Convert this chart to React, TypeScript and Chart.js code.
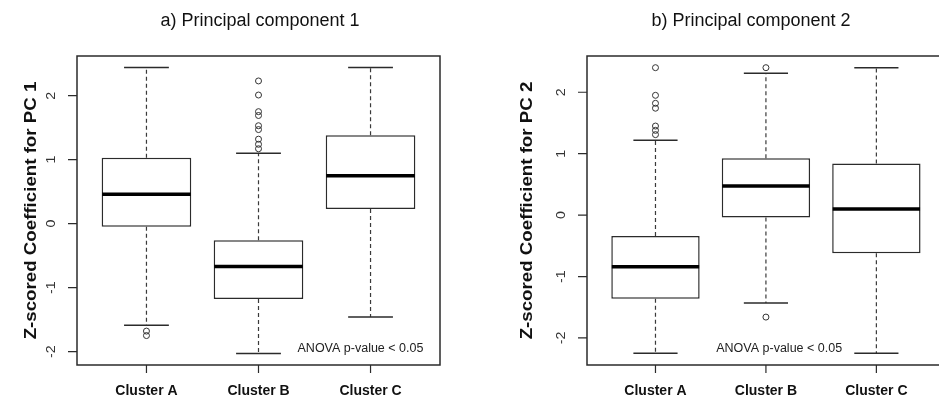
import React, { useEffect, useRef } from 'react';
import { Chart, registerables } from 'chart.js';

Chart.register(...registerables);

// ---------- data ----------
const categories = ['Cluster A', 'Cluster B', 'Cluster C'];
const yTicks = [-2, -1, 0, 1, 2];
const noteText = 'ANOVA p-value < 0.05';

const pc1Title = 'a) Principal component 1';
const pc1AxisTitle = 'Z-scored Coefficient for PC 1';
const pc1Low = [-1.59, -2.03, -1.46];
const pc1Q1 = [-0.05, -1.18, 0.23];
const pc1Median = [0.46, -0.67, 0.75];
const pc1Q3 = [1.03, -0.26, 1.38];
const pc1High = [2.44, 1.1, 2.44];
const pc1Outliers = [
  [-1.68, -1.75],
  [2.23, 2.01, 1.75, 1.69, 1.53, 1.47, 1.32, 1.24, 1.17],
  [],
];
const pc1YRange = [-2.21, 2.62];

const pc2Title = 'b) Principal component 2';
const pc2AxisTitle = 'Z-scored Coefficient for PC 2';
const pc2Low = [-2.25, -1.43, -2.25];
const pc2Q1 = [-1.36, -0.04, -0.62];
const pc2Median = [-0.84, 0.475, 0.1];
const pc2Q3 = [-0.34, 0.925, 0.84];
const pc2High = [1.22, 2.31, 2.4];
const pc2Outliers = [
  [2.4, 1.95, 1.82, 1.74, 1.45, 1.38, 1.31],
  [2.4, -1.66],
  [],
];
const pc2YRange = [-2.44, 2.59];

// ---------- layout / style ----------
const FONT = '"Liberation Sans", Arial, Helvetica, sans-serif';
const INK = '#2b2b2b';

type Panel = {
  key: string;
  title: string;
  axisTitle: string;
  low: number[];
  q1: number[];
  median: number[];
  q3: number[];
  high: number[];
  outliers: number[][];
  yRange: number[];
  xRange: number[];
  padding: { left: number; right: number; top: number; bottom: number };
  titleX: number;
  axisTitleX: number;
  note: { x: number; y: number };
  rightBorder: boolean;
};

const panels: Panel[] = [
  {
    key: 'pc1',
    title: pc1Title,
    axisTitle: pc1AxisTitle,
    low: pc1Low,
    q1: pc1Q1,
    median: pc1Median,
    q3: pc1Q3,
    high: pc1High,
    outliers: pc1Outliers,
    yRange: pc1YRange,
    xRange: [0.38, 3.62],
    padding: { left: 77, right: 32, top: 56, bottom: 43 },
    titleX: 260,
    axisTitleX: 31,
    note: { x: 2.91, y: -1.96 },
    rightBorder: true,
  },
  {
    key: 'pc2',
    title: pc2Title,
    axisTitle: pc2AxisTitle,
    low: pc2Low,
    q1: pc2Q1,
    median: pc2Median,
    q3: pc2Q3,
    high: pc2High,
    outliers: pc2Outliers,
    yRange: pc2YRange,
    xRange: [0.38, 3.567],
    padding: { left: 115, right: 0, top: 56, bottom: 43 },
    titleX: 279,
    axisTitleX: 55,
    note: { x: 2.12, y: -2.18 },
    rightBorder: false,
  },
];

function makePlugin(p: Panel) {
  return {
    id: 'boxplot-' + p.key,
    afterDatasetsDraw(chart: any) {
      const ctx = chart.ctx as CanvasRenderingContext2D;
      const ys = chart.scales.y;
      const meta = chart.getDatasetMeta(0);
      ctx.save();
      categories.forEach((_, i) => {
        const bar = meta.data[i] as any;
        const x = bar.x;
        const w = bar.width;
        const cap = w / 4;
        const yLow = ys.getPixelForValue(p.low[i]);
        const yQ1 = ys.getPixelForValue(p.q1[i]);
        const yMed = ys.getPixelForValue(p.median[i]);
        const yQ3 = ys.getPixelForValue(p.q3[i]);
        const yHigh = ys.getPixelForValue(p.high[i]);
        // dashed whiskers
        ctx.strokeStyle = '#3a3a3a';
        ctx.lineWidth = 1.2;
        ctx.setLineDash([4, 3]);
        ctx.beginPath();
        ctx.moveTo(x, yQ3);
        ctx.lineTo(x, yHigh);
        ctx.moveTo(x, yQ1);
        ctx.lineTo(x, yLow);
        ctx.stroke();
        // caps
        ctx.setLineDash([]);
        ctx.strokeStyle = INK;
        ctx.lineWidth = 1.5;
        ctx.beginPath();
        ctx.moveTo(x - cap, yHigh);
        ctx.lineTo(x + cap, yHigh);
        ctx.moveTo(x - cap, yLow);
        ctx.lineTo(x + cap, yLow);
        ctx.stroke();
        // median
        ctx.strokeStyle = '#000';
        ctx.lineWidth = 3.5;
        ctx.beginPath();
        ctx.moveTo(x - w / 2 + 0.5, yMed);
        ctx.lineTo(x + w / 2 - 0.5, yMed);
        ctx.stroke();
      });
      ctx.restore();
    },
    afterDraw(chart: any) {
      const ctx = chart.ctx as CanvasRenderingContext2D;
      const xs = chart.scales.x;
      const ys = chart.scales.y;
      const { left, right, top, bottom } = chart.chartArea;
      ctx.save();
      // frame
      ctx.strokeStyle = INK;
      ctx.lineWidth = 1.5;
      ctx.beginPath();
      ctx.moveTo(right, top);
      ctx.lineTo(left, top);
      ctx.lineTo(left, bottom);
      ctx.lineTo(right, bottom);
      if (p.rightBorder) ctx.closePath();
      ctx.stroke();
      // ticks
      ctx.lineWidth = 1.2;
      ctx.beginPath();
      yTicks.forEach((t) => {
        const y = ys.getPixelForValue(t);
        ctx.moveTo(left, y);
        ctx.lineTo(left - 9, y);
      });
      categories.forEach((_, i) => {
        const x = xs.getPixelForValue(i + 1);
        ctx.moveTo(x, bottom);
        ctx.lineTo(x, bottom + 8);
      });
      ctx.stroke();
      // y tick labels (rotated)
      ctx.fillStyle = '#333';
      ctx.textAlign = 'center';
      ctx.textBaseline = 'middle';
      ctx.font = `13px ${FONT}`;
      yTicks.forEach((t) => {
        const y = ys.getPixelForValue(t);
        ctx.save();
        ctx.translate(left - 26, y);
        ctx.rotate(-Math.PI / 2);
        ctx.scale(1.1, 1);
        ctx.fillText(String(t), 0, 0);
        ctx.restore();
      });
      // x category labels
      ctx.fillStyle = '#111';
      ctx.font = `bold 14px ${FONT}`;
      categories.forEach((c, i) => {
        const x = xs.getPixelForValue(i + 1);
        ctx.fillText(c, x, bottom + 26);
      });
      // y axis title
      ctx.save();
      ctx.translate(p.axisTitleX, (top + bottom) / 2);
      ctx.rotate(-Math.PI / 2);
      ctx.scale(1.1, 1);
      ctx.font = `bold 17px ${FONT}`;
      ctx.fillText(p.axisTitle, 0, 0);
      ctx.restore();
      // main title
      ctx.font = `18px ${FONT}`;
      ctx.fillStyle = '#111';
      ctx.fillText(p.title, p.titleX, 21);
      // note
      ctx.font = `12.5px ${FONT}`;
      ctx.fillStyle = '#222';
      ctx.fillText(noteText, xs.getPixelForValue(p.note.x), ys.getPixelForValue(p.note.y));
      ctx.restore();
    },
  };
}

function BoxPanel({ p }: { p: Panel }) {
  const ref = useRef<HTMLCanvasElement | null>(null);
  useEffect(() => {
    if (!ref.current) return;
    const outlierPoints = p.outliers.flatMap((arr, i) => arr.map((v) => ({ x: i + 1, y: v })));
    const chart = new Chart(ref.current, {
      type: 'bar',
      data: {
        datasets: [
          {
            type: 'bar',
            data: categories.map((_, i) => ({ x: i + 1, y: [p.q1[i], p.q3[i]] })) as any,
            backgroundColor: '#ffffff',
            borderColor: INK,
            borderWidth: 1.5,
            borderSkipped: false,
            barPercentage: 0.8,
            categoryPercentage: 1,
            grouped: false,
          } as any,
          {
            type: 'scatter',
            data: outlierPoints as any,
            pointRadius: 3,
            pointBorderWidth: 1,
            pointBorderColor: '#333',
            pointBackgroundColor: 'rgba(0,0,0,0)',
            showLine: false,
          } as any,
        ],
      },
      options: {
        animation: false,
        responsive: false,
        events: [],
        layout: { padding: p.padding },
        plugins: {
          legend: { display: false },
          tooltip: { enabled: false },
          title: { display: false },
        },
        scales: {
          x: {
            type: 'linear',
            min: p.xRange[0],
            max: p.xRange[1],
            offset: false,
            grid: { offset: false },
            display: false,
            afterBuildTicks: (s: any) => {
              s.ticks = categories.map((_, i) => ({ value: i + 1 }));
            },
          },
          y: {
            type: 'linear',
            min: p.yRange[0],
            max: p.yRange[1],
            display: false,
          },
        },
      } as any,
      plugins: [makePlugin(p) as any],
    });
    return () => chart.destroy();
  }, [p]);
  return <canvas ref={ref} width={472} height={408} style={{ width: 472, height: 408, display: 'block' }} />;
}

export default function App() {
  return (
    <div
      style={{
        position: 'absolute',
        left: 0,
        top: 0,
        width: 944,
        height: 408,
        background: '#fff',
        display: 'flex',
        overflow: 'hidden',
      }}
    >
      {panels.map((p) => (
        <BoxPanel key={p.key} p={p} />
      ))}
    </div>
  );
}
